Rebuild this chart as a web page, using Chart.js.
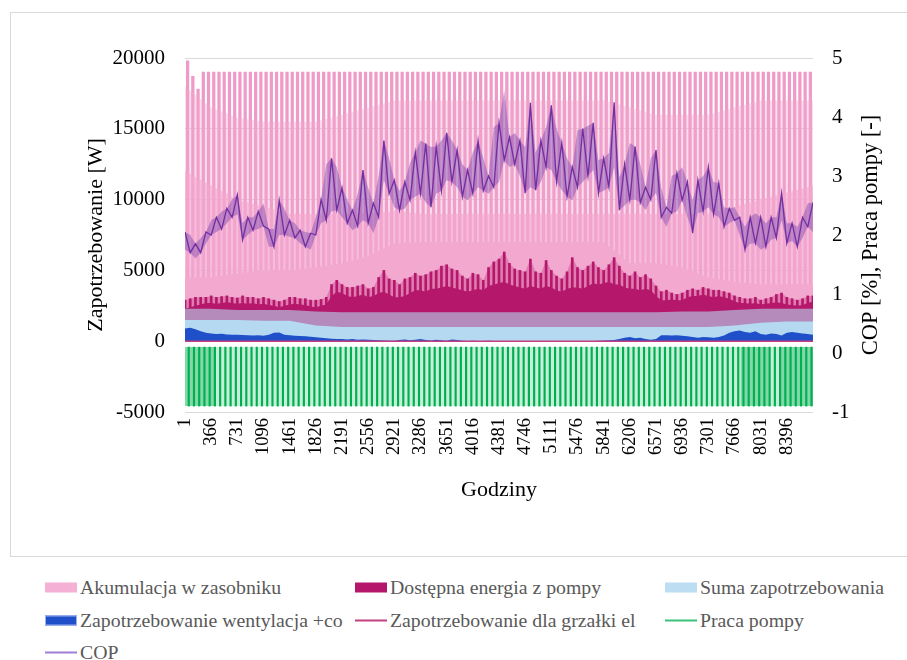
<!DOCTYPE html>
<html>
<head>
<meta charset="utf-8">
<script src="https://cdn.jsdelivr.net/npm/chart.js@4.4.1/dist/chart.umd.min.js"></script>
<style>
  body { margin: 0; background: #fff; }
  #wrap { position: relative; width: 907px; height: 660px; overflow: hidden; }
  #frame { position: absolute; left: 10px; top: 12px; width: 910px; height: 543px; border: 1px solid #d9d9d9; }
  #chart { position: absolute; left: 0; top: 0; }
  .item { position: absolute; display: flex; align-items: center; font-family: 'Liberation Serif', serif; font-size: 19.8px; color: #595959; white-space: nowrap; transform: translateY(-50%); }
  .sw { width: 32px; height: 10px; margin-right: 3px; box-sizing: border-box; }
  .ln { width: 32px; height: 2px; margin-right: 3px; }
</style>
</head>
<body>
<div id="wrap">
  <div id="frame"></div>
  <canvas id="chart" width="907" height="560"></canvas>
  <div id="legend"></div>
</div>
<script>
// x axis labels (hours)
const hourTicks = [1, 366, 731, 1096, 1461, 1826, 2191, 2556, 2921, 3286, 3651, 4016,
  4381, 4746, 5111, 5476, 5841, 6206, 6571, 6936, 7301, 7666, 8031, 8396];

// sample hours: every 73 h (121 samples) and every 365 h (25 samples)
const hours = Array.from({ length: 121 }, (_, i) => 1 + 73 * i);
const akuHours = [...hourTicks, 8761];

// COP band (upper / lower), right axis
const copHi = [2.05, 2.0, 1.85, 1.95, 2.05, 2.25, 2.3, 2.4, 2.45, 2.6,
  2.68, 2.2, 2.3, 2.3, 2.4, 2.54, 2.1, 2.1, 2.59, 2.45,
  2.25, 2.2, 2.08, 2.05, 2.03, 2.3, 2.6, 3.2, 3.3, 3.15,
  2.8, 2.6, 2.42, 2.7, 3.1, 2.8, 2.54, 3.0, 3.6, 3.3,
  2.93, 2.75, 2.9, 3.22, 3.4, 3.6, 3.55, 3.49, 3.5, 3.6,
  3.73, 3.6, 3.44, 3.2, 3.1, 3.4, 3.6, 3.3, 3.0, 3.83,
  3.9, 4.46, 3.66, 3.73, 3.6, 3.49, 4.24, 3.4, 3.6, 3.83,
  4.2, 3.8, 3.56, 3.3, 3.15, 3.78, 3.8, 3.85, 3.9, 3.27,
  3.3, 3.39, 4.25, 2.98, 3.2, 3.56, 3.5, 3.2, 2.81, 3.3,
  3.44, 2.8, 2.47, 3.0, 3.05, 3.15, 2.9, 2.59, 2.93, 3.0,
  3.15, 2.9, 2.88, 2.47, 2.45, 2.47, 2.3, 2.14, 2.3, 2.37,
  2.3, 2.2, 2.3, 2.3, 2.71, 2.2, 2.2, 2.14, 2.3, 2.54,
  2.55];
const copLo = [1.75, 1.7, 1.6, 1.7, 1.85, 2.0, 2.05, 2.1, 2.2, 2.3,
  2.35, 1.92, 2.0, 2.08, 2.1, 2.15, 1.8, 1.8, 2.0, 2.0,
  1.97, 1.95, 1.86, 1.8, 1.75, 2.0, 2.2, 2.25, 2.4, 2.42,
  2.3, 2.2, 2.08, 2.15, 2.25, 2.2, 2.03, 2.3, 2.93, 2.7,
  2.47, 2.42, 2.45, 2.59, 2.65, 2.7, 2.55, 2.47, 2.7, 2.75,
  2.93, 2.9, 2.81, 2.65, 2.59, 2.7, 2.81, 2.75, 2.7, 2.81,
  2.9, 3.27, 3.15, 3.2, 3.0, 2.71, 2.81, 2.76, 2.9, 3.15,
  3.1, 2.9, 2.76, 2.65, 2.59, 2.81, 2.9, 3.0, 3.1, 2.71,
  2.75, 2.81, 3.15, 2.42, 2.5, 2.59, 2.6, 2.55, 2.42, 2.6,
  2.71, 2.3, 2.14, 2.37, 2.4, 2.59, 2.3, 2.03, 2.37, 2.4,
  2.47, 2.35, 2.3, 2.14, 2.2, 2.25, 2.0, 1.75, 1.85, 1.86,
  1.75, 1.8, 1.92, 1.95, 2.25, 1.86, 1.9, 1.8, 1.95, 2.14,
  2.05];

// Dostępna energia z pompy [W]: dense top and peaks
const dostLo = [2300, 2400, 2500, 2600, 2700, 2700, 2650, 2700, 2750, 2700,
  2650, 2700, 2650, 2700, 2600, 2650, 2550, 2500, 2400, 2500,
  2600, 2650, 2600, 2550, 2450, 2400, 2500, 2600, 3200, 3500,
  3400, 3200, 3100, 3200, 3300, 3100, 3200, 3400, 3500, 3300,
  3100, 3100, 3200, 3400, 3600, 3600, 3500, 3700, 3700, 3800,
  3900, 3800, 3700, 3600, 3500, 3600, 3700, 3600, 3900, 4000,
  4100, 4200, 4000, 3900, 3800, 3700, 3900, 3800, 3700, 3900,
  3800, 3600, 3500, 3700, 3800, 3800, 3700, 3900, 4100, 4000,
  4100, 4200, 4000, 4000, 3800, 3700, 3700, 3600, 3700, 3600,
  3200, 2900, 2900, 2950, 2900, 2900, 3100, 3200, 3200, 3300,
  3200, 3100, 3200, 3100, 3000, 2800, 2700, 2700, 2650, 2700,
  2600, 2650, 2700, 2750, 2700, 2600, 2550, 2500, 2550, 2700,
  2800];
const dostHi = [2900, 3000, 3100, 3100, 3100, 3200, 3100, 3150, 3200, 3100,
  3050, 3200, 3100, 3100, 3000, 3100, 3000, 2900, 2800, 2900,
  3100, 3100, 3000, 3000, 2900, 2900, 2950, 3100, 4000, 4300,
  4000, 3800, 3800, 3900, 4000, 3700, 3800, 4500, 5000, 4400,
  4300, 4000, 4400, 4500, 4800, 4600, 4700, 4900, 5000, 5300,
  5400, 5100, 5000, 4600, 4400, 4800, 4700, 4300, 5200, 5600,
  5800, 6300, 5500, 5100, 5000, 4900, 5800, 4900, 4800, 5700,
  5000, 4600, 4400, 4900, 5900, 5200, 5000, 5300, 5600, 5200,
  5000, 5400, 5900, 5300, 4800, 4600, 4900, 4500, 4700, 4400,
  3900, 3500, 3600, 3400, 3300, 3400, 3600, 3700, 3600, 3800,
  3700, 3600, 3600, 3500, 3400, 3200, 3100, 3000, 3000, 3100,
  2900, 3000, 3100, 3300, 3400, 3100, 3000, 2900, 3000, 3200,
  3200];

// Zapotrzebowanie wentylacja +co [W]
const went = [900, 950, 850, 700, 600, 550, 500, 520, 480, 450,
  460, 430, 420, 400, 420, 380, 450, 600, 620, 450,
  420, 380, 360, 350, 320, 280, 250, 200, 180, 150,
  150, 120, 150, 100, 120, 100, 80, 60, 50, 40,
  30, 80, 120, 60, 100, 150, 80, 50, 100, 60,
  40, 120, 80, 30, 20, 40, 20, 10, 30, 20,
  10, 10, 20, 10, 0, 10, 20, 0, 10, 0,
  10, 20, 0, 0, 10, 0, 10, 0, 20, 30,
  50, 60, 80, 150, 250, 300, 200, 250, 150, 100,
  150, 420, 420, 400, 420, 380, 350, 300, 250, 300,
  280, 250, 300, 400, 600, 700, 750, 650, 600, 700,
  500, 450, 550, 500, 400, 600, 650, 600, 550, 500,
  450];

// Suma zapotrzebowania [W] (every 365 h): solid level and peak level
const sumaLo = [1500, 1500, 1500, 1450, 1450, 1100, 1000, 1000, 1000, 1000, 1000, 1000,
  1000, 1000, 1000, 1000, 1000, 1000, 1000, 1000, 1000, 1100, 1300, 1400, 1400];
const sumaHi = [2300, 2300, 2200, 2200, 2200, 2100, 2050, 2050, 2050, 2050, 2050, 2050,
  2050, 2050, 2050, 2050, 2050, 2050, 2050, 2100, 2100, 2200, 2300, 2300, 2300];

// Akumulacja w zasobniku [W] (every 365 h): solid, dense and faint levels
const akuSolid = [4500, 4500, 4800, 5000, 5000, 5200, 5500, 6000, 6900, 7000, 7000, 7000,
  7000, 7000, 7000, 7000, 7000, 5500, 5500, 5200, 4500, 4200, 4000, 4000, 4000];
const akuDense = [12000, 11000, 10000, 9500, 9000, 9000, 9000, 9000, 9200, 9000, 9000, 9000,
  9000, 9000, 9000, 9000, 9000, 9000, 9000, 9000, 9000, 9500, 10000, 10500, 11000];
const akuFaint = [18000, 16500, 15800, 15500, 15500, 15500, 16000, 16500, 17000, 17000, 17000, 17000,
  17000, 17000, 17000, 17000, 17000, 16500, 16000, 16000, 16000, 16500, 17000, 17000, 17000];
// daily peaks of the accumulation (every 73 h)
const akuPeak = [19800, 18700, 17800, 19000, 19000, 19000, 19000, 19000, 19000, 19000,
  19000, 19000, 19000, 19000, 19000, 19000, 19000, 19000, 19000, 19000,
  19000, 19000, 19000, 19000, 19000, 19000, 19000, 19000, 19000, 19000,
  19000, 19000, 19000, 19000, 19000, 19000, 19000, 19000, 19000, 19000,
  19000, 19000, 19000, 19000, 19000, 19000, 19000, 19000, 19000, 19000,
  19000, 19000, 19000, 19000, 19000, 19000, 19000, 19000, 19000, 19000,
  19000, 19000, 19000, 19000, 19000, 19000, 19000, 19000, 19000, 19000,
  19000, 19000, 19000, 19000, 19000, 19000, 19000, 19000, 19000, 19000,
  19000, 19000, 19000, 19000, 19000, 19000, 19000, 19000, 19000, 19000,
  19000, 19000, 19000, 19000, 19000, 19000, 19000, 19000, 19000, 19000,
  19000, 19000, 19000, 19000, 19000, 19000, 19000, 19000, 19000, 19000,
  19000, 19000, 19000, 19000, 19000, 19000, 19000, 19000, 19000, 19000,
  19000];

// Zapotrzebowanie dla grzałki el (flat zero)
const grzalkaHours = [1, 8761];
const grzalka = [0, 0];

// Praca pompy (right axis): on/off range and periods of dense operation
const pumpRange = [-0.9, 0.1];
const pumpDense = [[1, 420], [7750, 8150], [8300, 8761]];

const pts = (xs, ys) => xs.map((x, i) => ({ x: x, y: ys[i] }));
const bandEdge = (ranges, v) => ranges.flatMap((r, i) => {
  const seg = [{ x: r[0], y: v }, { x: r[1], y: v }];
  return i < ranges.length - 1 ? seg.concat([{ x: r[1] + 1, y: null }]) : seg;
});
// COP swings between its daily high and low readings
const copSwing = hours.map((h, i) => ({ x: h, y: i % 2 ? copLo[i] : copHi[i] }));

const PINK = '243,168,208';
const area = (label, data, color, order) => ({
  type: 'line', label: label, data: data, yAxisID: 'y', order: order,
  fill: 'origin', backgroundColor: color, borderWidth: 0, pointRadius: 0
});

const datasets = [
  { type: 'line', label: 'COP', data: copSwing, yAxisID: 'y2', order: 0,
    borderColor: '#7030A0', borderWidth: 1.3, pointRadius: 0, fill: false },
  { type: 'line', label: 'COP max', data: pts(hours, copHi), yAxisID: 'y2', order: 1,
    borderWidth: 0, pointRadius: 0, fill: '+1', backgroundColor: 'rgba(125,70,175,0.45)' },
  { type: 'line', label: 'COP min', data: pts(hours, copLo), yAxisID: 'y2', order: 1,
    borderWidth: 0, pointRadius: 0, fill: false },
  { type: 'line', label: 'Zapotrzebowanie dla grzałki el', data: pts(grzalkaHours, grzalka), yAxisID: 'y', order: 2,
    borderColor: '#C2407F', borderWidth: 1.5, pointRadius: 0, fill: false },
  { type: 'bar', label: 'Praca pompy', data: hours.map(h => ({ x: h, y: pumpRange })), yAxisID: 'y2', order: 3,
    backgroundColor: '#00B050', barThickness: 1.5 },
  { type: 'line', label: 'pump band', data: [{ x: 1, y: pumpRange[1] }, { x: 8761, y: pumpRange[1] }], yAxisID: 'y2', order: 4,
    borderWidth: 0, pointRadius: 0, fill: '+1', backgroundColor: 'rgba(0,176,80,0.22)' },
  { type: 'line', label: 'pump band low', data: [{ x: 1, y: pumpRange[0] }, { x: 8761, y: pumpRange[0] }], yAxisID: 'y2', order: 4,
    borderWidth: 0, pointRadius: 0, fill: false },
  { type: 'line', label: 'pump dense', data: bandEdge(pumpDense, pumpRange[1]), yAxisID: 'y2', order: 4,
    borderWidth: 0, pointRadius: 0, fill: '+1', backgroundColor: 'rgba(0,176,80,0.35)' },
  { type: 'line', label: 'pump dense low', data: bandEdge(pumpDense, pumpRange[0]), yAxisID: 'y2', order: 4,
    borderWidth: 0, pointRadius: 0, fill: false },
  area('Zapotrzebowanie wentylacja +co', pts(hours, went), '#1F4FC9', 5),
  area('Suma zapotrzebowania', pts(akuHours, sumaLo), '#B4D9F0', 6),
  area('Suma peak', pts(akuHours, sumaHi), 'rgba(180,217,240,0.6)', 7),
  area('Dostępna energia z pompy', pts(hours, dostLo), '#B5186B', 8),
  { type: 'bar', label: 'Dostępna peaks', data: pts(hours, dostHi), yAxisID: 'y', order: 9,
    backgroundColor: '#B5186B', barThickness: 2 },
  area('Dostępna peak band', pts(hours, dostHi), 'rgba(181,24,107,0.3)', 9),
  area('Akumulacja w zasobniku', pts(akuHours, akuSolid), 'rgb(' + PINK + ')', 10),
  area('Akumulacja dense', pts(akuHours, akuDense), 'rgba(' + PINK + ',0.6)', 11),
  area('Akumulacja faint', pts(akuHours, akuFaint), 'rgba(' + PINK + ',0.38)', 12),
  { type: 'bar', label: 'Akumulacja peaks', data: pts(hours, akuPeak), yAxisID: 'y', order: 13,
    backgroundColor: '#EF9AC7', barThickness: 2.6 }
];

// right axis title reads bottom to top, like the left one
const rightTitle = {
  id: 'rightTitle',
  afterDraw(chart) {
    const ctx = chart.ctx;
    const s = chart.scales.y2;
    ctx.save();
    ctx.translate(s.right - 36, (s.top + s.bottom) / 2);
    ctx.rotate(-Math.PI / 2);
    ctx.font = "22.5px 'Liberation Serif'";
    ctx.fillStyle = '#000';
    ctx.textAlign = 'center';
    ctx.textBaseline = 'middle';
    ctx.fillText('COP [%], Praca pompy [-]', 0, 0);
    ctx.restore();
  }
};

Chart.defaults.font.family = "'Liberation Serif', 'Times New Roman', serif";
Chart.defaults.color = '#000';

new Chart(document.getElementById('chart'), {
  type: 'line',
  data: { datasets: datasets },
  options: {
    responsive: false,
    animation: false,
    layout: { padding: { top: 58, left: 0, right: 0, bottom: 0 } },
    plugins: { legend: { display: false }, tooltip: { enabled: false } },
    scales: {
      x: {
        type: 'linear', min: 1, max: 8761, offset: false,
        afterBuildTicks: axis => { axis.ticks = hourTicks.map(v => ({ value: v })); },
        afterFit: scale => { scale.height = 148; },
        grid: { display: false, drawTicks: false },
        border: { display: false },
        ticks: { autoSkip: false, minRotation: 90, maxRotation: 90, padding: 6, font: { size: 18.5 },
          callback: v => String(v) },
        title: { display: true, text: 'Godziny', font: { size: 22 }, padding: { top: 0, bottom: 57 } }
      },
      y: {
        position: 'left', min: -5000, max: 20000,
        afterFit: scale => { scale.width = 185; },
        grid: { color: '#d9d9d9', drawTicks: false },
        border: { display: false },
        ticks: { stepSize: 5000, padding: 20, font: { size: 21 }, callback: v => String(v) },
        title: { display: true, text: 'Zapotrzebowanie [W]', font: { size: 22 }, padding: { top: 83, bottom: 0 } }
      },
      y2: {
        position: 'right', min: -1, max: 5,
        afterFit: scale => { scale.width = 94; },
        grid: { display: false, drawTicks: false },
        border: { display: false },
        ticks: { stepSize: 1, padding: 19, font: { size: 21 } }
      }
    }
  },
  plugins: [rightTitle]
});

// legend below the chart frame, three columns
const legendItems = [
  ['Akumulacja w zasobniku', 'box', '#F4B0D5'],
  ['Dostępna energia z pompy', 'box', '#B5186B'],
  ['Suma zapotrzebowania', 'box', '#BDDDF2'],
  ['Zapotrzebowanie wentylacja +co', 'box', '#1F4FC9'],
  ['Zapotrzebowanie dla grzałki el', 'line', '#C2407F'],
  ['Praca pompy', 'line', '#3CC27A'],
  ['COP', 'line', '#A07ED6']
];
const colX = [45, 355, 665];
const rowY = [587, 620, 652];
const legend = document.getElementById('legend');
legendItems.forEach((it, i) => {
  const el = document.createElement('div');
  el.className = 'item';
  el.style.left = colX[i % 3] + 'px';
  el.style.top = rowY[Math.floor(i / 3)] + 'px';
  const sw = document.createElement('span');
  sw.className = it[1] === 'box' ? 'sw' : 'ln';
  sw.style.background = it[2];
  if (i === 3) sw.style.border = '1px solid #9db4ee';
  el.appendChild(sw);
  el.appendChild(document.createTextNode(it[0]));
  legend.appendChild(el);
});
</script>
</body>
</html>
